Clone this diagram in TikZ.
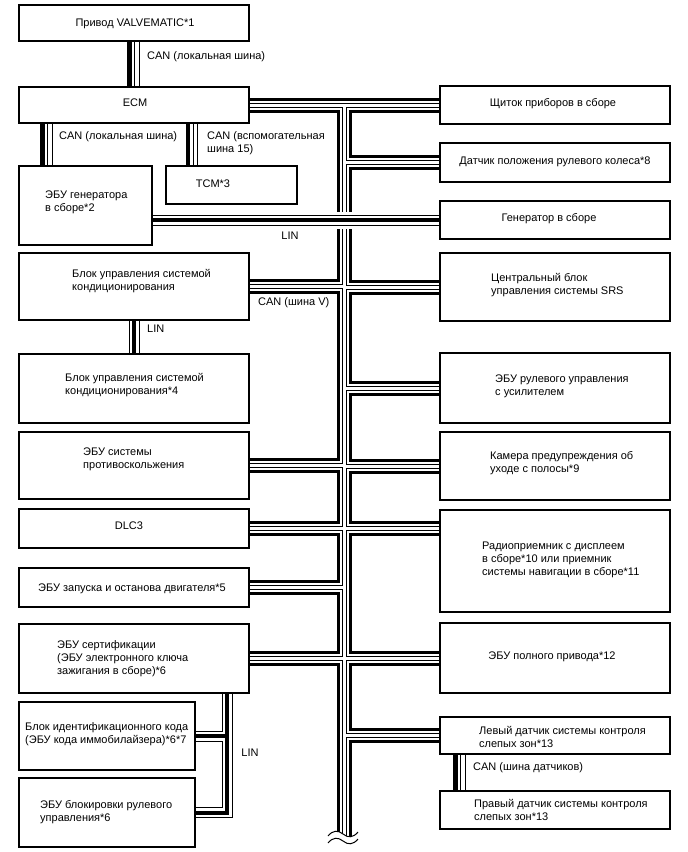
\documentclass[tikz,border=0pt]{standalone}
\usepackage{fontspec}
\setmainfont{Liberation Sans}
\usetikzlibrary{fit,backgrounds}
\newcommand\canlink[3]{%
  \coordinate (cl1) at (#3-4.5,0);
  \coordinate (cl2) at (#3+0.8,0);
  \coordinate (cl3) at (#3+5,0);
  \draw[line width=4.5pt] (#1.south -| cl1) -- (#2.north -| cl1);
  \draw[line width=1pt] (#1.south -| cl2) -- (#2.north -| cl2);
  \draw[line width=1pt] (#1.south -| cl3) -- (#2.north -| cl3);}
\begin{document}
\begin{tikzpicture}[x=1pt,y=-1pt,
  box/.style={draw,line width=1.1pt,fill=white,inner sep=0pt},
  txt/.style={font=\fontsize{11}{13}\selectfont,inner sep=0pt,align=left},
  lbl/.style={txt,anchor=west},
  wave/.style={line width=1pt}]
\useasboundingbox (0,0) rectangle (688,852);
% boxes
\node[box,fit={(19,5)(249,41)}] (valv) {};
\node[box,fit={(19,87)(249,123)}] (ecm) {};
\node[box,fit={(19,166)(152,245)}] (gecu) {};
\node[box,fit={(166,166)(297,204)}] (tcm) {};
\node[box,fit={(440,86)(670,124)}] (sch) {};
\node[box,fit={(440,143)(670,182)}] (dat) {};
\node[box,fit={(440,201)(670,239)}] (genr) {};
\node[box,fit={(440,253)(670,321)}] (srs) {};
\node[box,fit={(19,253)(249,320)}] (ac) {};
\node[box,fit={(19,354)(249,423)}] (ac4) {};
\node[box,fit={(440,353)(670,423)}] (ster) {};
\node[box,fit={(19,432)(249,499)}] (abs) {};
\node[box,fit={(440,432)(670,500)}] (cam) {};
\node[box,fit={(19,509)(249,548)}] (dlc) {};
\node[box,fit={(440,510)(670,612)}] (radio) {};
\node[box,fit={(19,568)(249,607)}] (start) {};
\node[box,fit={(19,624)(249,693)}] (cert) {};
\node[box,fit={(440,623)(670,693)}] (awd) {};
\node[box,fit={(19,702)(195,770)}] (imm) {};
\node[box,fit={(19,778)(195,847)}] (blk) {};
\node[box,fit={(440,717)(670,754)}] (lsen) {};
\node[box,fit={(440,791)(670,829)}] (rsen) {};
% texts
\node[txt] (valv-t) at (135,24) {Привод VALVEMATIC*1};
\node[txt] (ecm-t) at (135,103) {ECM};
\node[lbl] (gecu-t) at (45,202) {ЭБУ генератора\\в сборе*2};
\node[txt] (tcm-t) at (213,184) {TCM*3};
\node[txt] (sch-t) at (553,104) {Щиток приборов в сборе};
\node[txt] (dat-t) at (555,162) {Датчик положения рулевого колеса*8};
\node[txt] (genr-t) at (549,219) {Генератор в сборе};
\node[lbl] (srs-t) at (491,285.5) {Центральный блок\\управления системы SRS};
\node[lbl] (ac-t) at (72,281.5) {Блок управления системой\\кондиционирования};
\node[lbl] (ac4-t) at (65,385) {Блок управления системой\\кондиционирования*4};
\node[lbl] (ster-t) at (495,386.5) {ЭБУ рулевого управления\\с усилителем};
\node[lbl] (abs-t) at (83,459.5) {ЭБУ системы\\противоскольжения};
\node[lbl] (cam-t) at (490,463) {Камера предупреждения об\\уходе с полосы*9};
\node[txt] (dlc-t) at (129,526) {DLC3};
\node[lbl] (radio-t) at (482,560) {Радиоприемник с дисплеем\\в сборе*10 или приемник\\системы навигации в сборе*11};
\node[txt] (start-t) at (132,589) {ЭБУ запуска и останова двигателя*5};
\node[lbl] (cert-t) at (57,659) {ЭБУ сертификации\\(ЭБУ электронного ключа\\зажигания в сборе)*6};
\node[txt] (awd-t) at (552,657) {ЭБУ полного привода*12};
\node[lbl] (imm-t) at (25,734) {Блок идентификационного кода\\(ЭБУ кода иммобилайзера)*6*7};
\node[lbl] (blk-t) at (40,812) {ЭБУ блокировки рулевого\\управления*6};
\node[lbl] (lsen-t) at (479,737) {Левый датчик системы контроля\\слепых зон*13};
\node[lbl] (rsen-t) at (474,810) {Правый датчик системы контроля\\слепых зон*13};
% bus labels
\node[lbl] (l1) at (147,57) {CAN (локальная шина)};
\node[lbl] (l2) at (59,137) {CAN (локальная шина)};
\node[lbl] (l3) at (207,143.5) {CAN (вспомогательная\\шина 15)};
\node[txt] (l4) at (290,236) {LIN};
\node[lbl] (l5) at (258,303) {CAN (шина V)};
\node[lbl] (l6) at (147,329) {LIN};
\node[txt] (l7) at (250,753) {LIN};
\node[lbl] (l8) at (473,768) {CAN (шина датчиков)};
% coordinates
\coordinate (trTop) at (344.5,105);
\coordinate (trBot) at (344.5,842);
\coordinate (lx) at (227,0);
\begin{scope}[on background layer]
\fill[white] (0,0) rectangle (688,852);
\foreach \w/\c in {15/black,9/white,5/black,3/white}{
  \draw[line width=\w pt,\c] (ecm.east) -- (sch.west)
    (trTop) -- (trBot)
    (dat.west) -- (dat.west -| trTop)
    (srs.west) -- (srs.west -| trTop)
    (ster.west) -- (ster.west -| trTop)
    (cam.west) -- (cam.west -| trTop)
    (dlc.east -| trTop) -- (dlc.east -| radio.west)
    (awd.west) -- (awd.west -| trTop)
    (lsen.west) -- (lsen.west -| trTop)
    (ac.east) -- (ac.east -| trTop)
    (abs.east) -- (abs.east -| trTop)
    (dlc.east) -- (dlc.east -| trTop)
    (start.east) -- (start.east -| trTop)
    (cert.east) -- (cert.east -| trTop);
}
\canlink{valv}{ecm}{134}
\canlink{ecm}{gecu}{47}
\canlink{ecm}{tcm}{192.5}
\canlink{lsen}{rsen}{460}
\draw[white,line width=17pt] (gecu.east |- genr.west) -- (genr.west);
\foreach \w/\c in {11/black,9/white,4/black}{
  \draw[line width=\w pt,\c] (gecu.east |- genr.west) -- (genr.west)
    (ac.south) -- (ac4.north)
    (cert.south -| lx) |- (blk.east)
    (imm.east) -- (imm.east -| lx);
}
\fill[white] (328,836) .. controls (333,830) and (338,830) .. (343,834)
  .. controls (348,838) and (353,838) .. (358,832) -- (358,852) -- (328,852) -- cycle;
\draw[wave] (328,836) .. controls (333,830) and (338,830) .. (343,834)
  .. controls (348,838) and (353,838) .. (358,832);
\draw[wave] (328,843) .. controls (333,837) and (338,837) .. (343,841)
  .. controls (348,845) and (353,845) .. (358,839);
\end{scope}
\end{tikzpicture}
\end{document}
